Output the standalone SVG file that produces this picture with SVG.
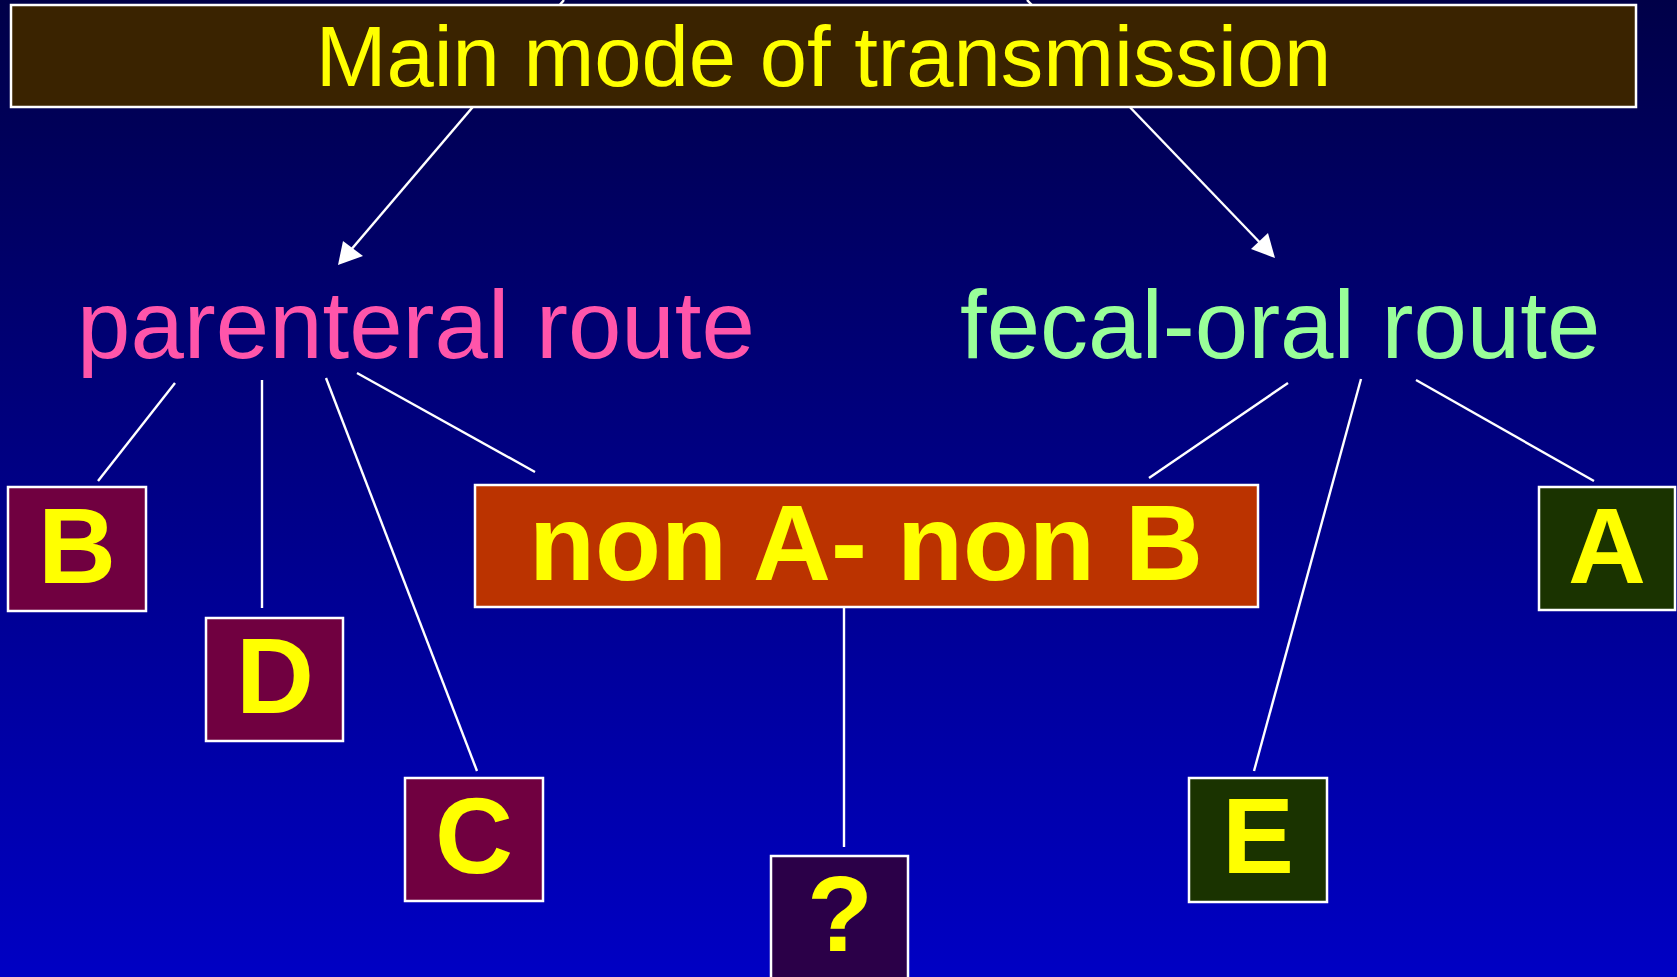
<svg xmlns="http://www.w3.org/2000/svg" width="1677" height="977" viewBox="0 0 1677 977">
<defs>
<linearGradient id="bg" x1="0" y1="0" x2="0" y2="1">
<stop offset="0" stop-color="#000048"/>
<stop offset="1" stop-color="#0000C4"/>
</linearGradient>
<style>
.box{stroke:#FFFFFF;stroke-width:2.5}
.ln{stroke:#FFFFFF;stroke-width:2.4;fill:none}
.lt{font-family:"Liberation Sans",Arial,sans-serif;font-weight:bold;font-size:108px;fill:#FFFF00;text-anchor:middle}
.route{font-family:"Liberation Sans",Arial,sans-serif;font-size:96px}
.pv{fill:#700040}
.gr{fill:#1A3300}
.ah{fill:#FFFFFF}
</style>
</defs>
<rect x="0" y="0" width="1677" height="977" fill="url(#bg)"/>
<g id="connectors">
<line class="ln" x1="564" y1="0" x2="344" y2="258"/>
<line class="ln" x1="1027" y1="0" x2="1268" y2="251"/>
<polygon class="ah" points="338,265 343,241 363,256"/>
<polygon class="ah" points="1275,258 1251,249 1268,233"/>
<line class="ln" x1="175" y1="383" x2="98" y2="481"/>
<line class="ln" x1="262" y1="380" x2="262" y2="608"/>
<line class="ln" x1="326" y1="378" x2="477" y2="771"/>
<line class="ln" x1="357" y1="373" x2="535" y2="472"/>
<line class="ln" x1="844" y1="608" x2="844" y2="847"/>
<line class="ln" x1="1288" y1="383" x2="1149" y2="478"/>
<line class="ln" x1="1361" y1="379" x2="1254" y2="771"/>
<line class="ln" x1="1416" y1="380" x2="1594" y2="481"/>
</g>
<g id="main">
<rect class="box" x="11" y="5" width="1625" height="102" fill="#3A2300"/>
<text x="823.5" y="86" font-family="'Liberation Sans',Arial,sans-serif" font-size="85" fill="#FFFF00" text-anchor="middle">Main mode of transmission</text>
</g>
<g id="parenteral">
<text class="route" x="77" y="358" fill="#FF55AA">parenteral route</text>
</g>
<g id="fecal">
<text class="route" x="960" y="358" fill="#99FF99">fecal-oral route</text>
</g>
<g id="nodeB">
<rect class="box pv" x="8" y="487" width="138" height="124"/>
<text class="lt" x="77" y="583">B</text>
</g>
<g id="nodeD">
<rect class="box pv" x="206" y="618" width="137" height="123"/>
<text class="lt" x="275" y="713">D</text>
</g>
<g id="nodeC">
<rect class="box pv" x="405" y="778" width="138" height="123"/>
<text class="lt" x="474" y="873">C</text>
</g>
<g id="nodeNonANonB">
<rect class="box" x="475" y="485" width="783" height="122" fill="#BB3300"/>
<text class="lt" x="866" y="580" font-size="105">non A- non B</text>
</g>
<g id="nodeQ">
<rect class="box" x="771" y="856" width="137" height="130" fill="#2B0048"/>
<text class="lt" x="840" y="951">?</text>
</g>
<g id="nodeE">
<rect class="box gr" x="1189" y="778" width="138" height="124"/>
<text class="lt" x="1258" y="873">E</text>
</g>
<g id="nodeA">
<rect class="box gr" x="1539" y="487" width="136" height="123"/>
<text class="lt" x="1607" y="583">A</text>
</g>
</svg>
